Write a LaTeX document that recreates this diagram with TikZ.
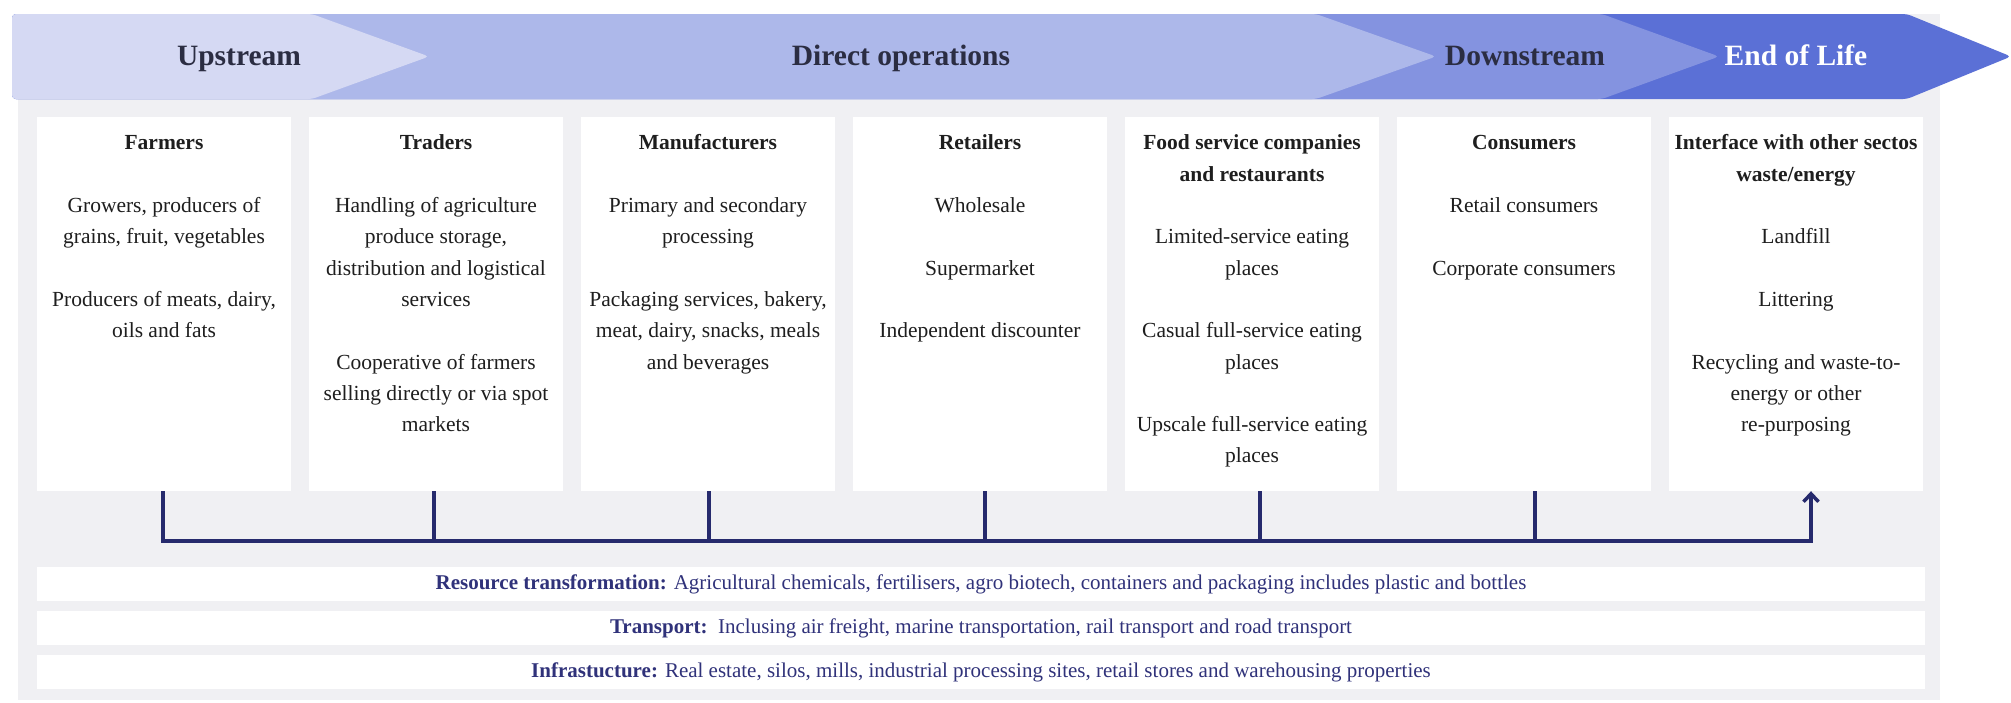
\documentclass[tikz,border=0pt]{standalone}
\usepackage{fontspec}
\setmainfont{Liberation Serif}
\usetikzlibrary{arrows.meta}

\definecolor{upc}{HTML}{D5D9F3}
\definecolor{directc}{HTML}{ADB8EA}
\definecolor{downc}{HTML}{8493E0}
\definecolor{eolc}{HTML}{5B70D6}
\definecolor{panelc}{HTML}{F0F0F3}
\definecolor{navy}{HTML}{262A6D}
\definecolor{bartext}{HTML}{30327A}
\definecolor{headtext}{HTML}{2B2D42}
\definecolor{bodytext}{HTML}{1E1E1E}

\newcommand{\gap}{31.3pt}

\tikzset{
  stagebox/.style={fill=white, draw=none, minimum width=254pt, minimum height=374pt, inner sep=0pt},
  stagetext/.style={anchor=north, inner sep=0pt, align=center, text=bodytext,
    font=\fontsize{21.5}{31.3}\selectfont},
  headlabel/.style={anchor=base, inner sep=0pt, text=headtext,
    font=\fontsize{29.5}{31}\selectfont\bfseries},
  barbox/.style={fill=white, draw=none, minimum width=1888pt, minimum height=34pt, inner sep=0pt,
    text=bartext, font=\fontsize{21}{24}\selectfont},
  flow/.style={draw=navy, line width=3.5pt},
  flowtip/.style={-{Straight Barb[length=8pt,width=15pt]}}
}

\begin{document}
\begin{tikzpicture}[x=1pt, y=-1pt]
\useasboundingbox (0,0) rectangle (2011,702);
\fill[white] (0,0) rectangle (2011,702);

% grey panel behind everything
\fill[panelc] (18,14) rectangle (1940,700);

% value-chain banner: chevrons stacked from back to front
\fill[eolc, rounded corners=4pt]
  (12,56.5) -- (12,14) -- (1907,14) -- (2011,56.5) -- (1907,99) -- (12,99) -- cycle;
\fill[downc, rounded corners=4pt]
  (12,56.5) -- (12,14) -- (1602,14) -- (1719,56.5) -- (1602,99) -- (12,99) -- cycle;
\fill[directc, rounded corners=4pt]
  (12,56.5) -- (12,14) -- (1316,14) -- (1436,56.5) -- (1316,99) -- (12,99) -- cycle;
\fill[upc, rounded corners=4pt]
  (12,56.5) -- (12,14) -- (312,14) -- (429,56.5) -- (312,99) -- (12,99) -- cycle;

\node[headlabel] (hup) at (239,65) {Upstream};
\node[headlabel] (hdir) at (901,65) {Direct operations};
\node[headlabel] (hdown) at (1525,65) {Downstream};
\node[headlabel, text=white] (heol) at (1796,65) {End of Life};

% stage columns
\node[stagebox] (b1) at (164,304) {};
\node[stagebox] (b2) at (436,304) {};
\node[stagebox] (b3) at (708,304) {};
\node[stagebox] (b4) at (980,304) {};
\node[stagebox] (b5) at (1252,304) {};
\node[stagebox] (b6) at (1524,304) {};
\node[stagebox] (b7) at (1796,304) {};

\node[stagetext] (t1) at ([yshift=-11pt]b1.north) {\strut\textbf{Farmers}\\[\gap]
  Growers, producers of\\ grains, fruit, vegetables\\[\gap]
  Producers of meats, dairy,\\ oils and fats};
\node[stagetext] (t2) at ([yshift=-11pt]b2.north) {\strut\textbf{Traders}\\[\gap]
  Handling of agriculture\\ produce storage,\\ distribution and logistical\\ services\\[\gap]
  Cooperative of farmers\\ selling directly or via spot\\ markets};
\node[stagetext] (t3) at ([yshift=-11pt]b3.north) {\strut\textbf{Manufacturers}\\[\gap]
  Primary and secondary\\ processing\\[\gap]
  Packaging services, bakery,\\ meat, dairy, snacks, meals\\ and beverages};
\node[stagetext] (t4) at ([yshift=-11pt]b4.north) {\strut\textbf{Retailers}\\[\gap]
  Wholesale\\[\gap] Supermarket\\[\gap] Independent discounter};
\node[stagetext] (t5) at ([yshift=-11pt]b5.north) {\strut\textbf{Food service companies}\\ \textbf{and restaurants}\\[\gap]
  Limited-service eating\\ places\\[\gap]
  Casual full-service eating\\ places\\[\gap]
  Upscale full-service eating\\ places};
\node[stagetext] (t6) at ([yshift=-11pt]b6.north) {\strut\textbf{Consumers}\\[\gap]
  Retail consumers\\[\gap] Corporate consumers};
\node[stagetext] (t7) at ([yshift=-11pt]b7.north) {\strut\textbf{Interface with other sectos}\\ \textbf{waste/energy}\\[\gap]
  Landfill\\[\gap] Littering\\[\gap]
  Recycling and waste-to-\\ energy or other\\ re-purposing};

% flow bus linking every stage to the end of life
\coordinate (busend) at (1811,541);
\draw[flow, flowtip] ([xshift=-1pt]b1.south) |- (busend) -- ([xshift=15pt]b7.south);
\draw[flow] ([xshift=-2pt]b2.south) -- ++(0,50);
\draw[flow] ([xshift=1pt]b3.south) -- ++(0,50);
\draw[flow] ([xshift=5pt]b4.south) -- ++(0,50);
\draw[flow] ([xshift=8pt]b5.south) -- ++(0,50);
\draw[flow] ([xshift=11pt]b6.south) -- ++(0,50);

% enabling sectors
\node[barbox] (res) at (981,584) {\textbf{Resource transformation:} Agricultural chemicals, fertilisers, agro biotech, containers and packaging includes plastic and bottles};
\node[barbox] (tra) at (981,628) {\textbf{Transport:}\ \ Inclusing air freight, marine transportation, rail transport and road transport};
\node[barbox] (inf) at (981,672) {\textbf{Infrastucture:} Real estate, silos, mills, industrial processing sites, retail stores and warehousing properties};
\end{tikzpicture}
\end{document}
